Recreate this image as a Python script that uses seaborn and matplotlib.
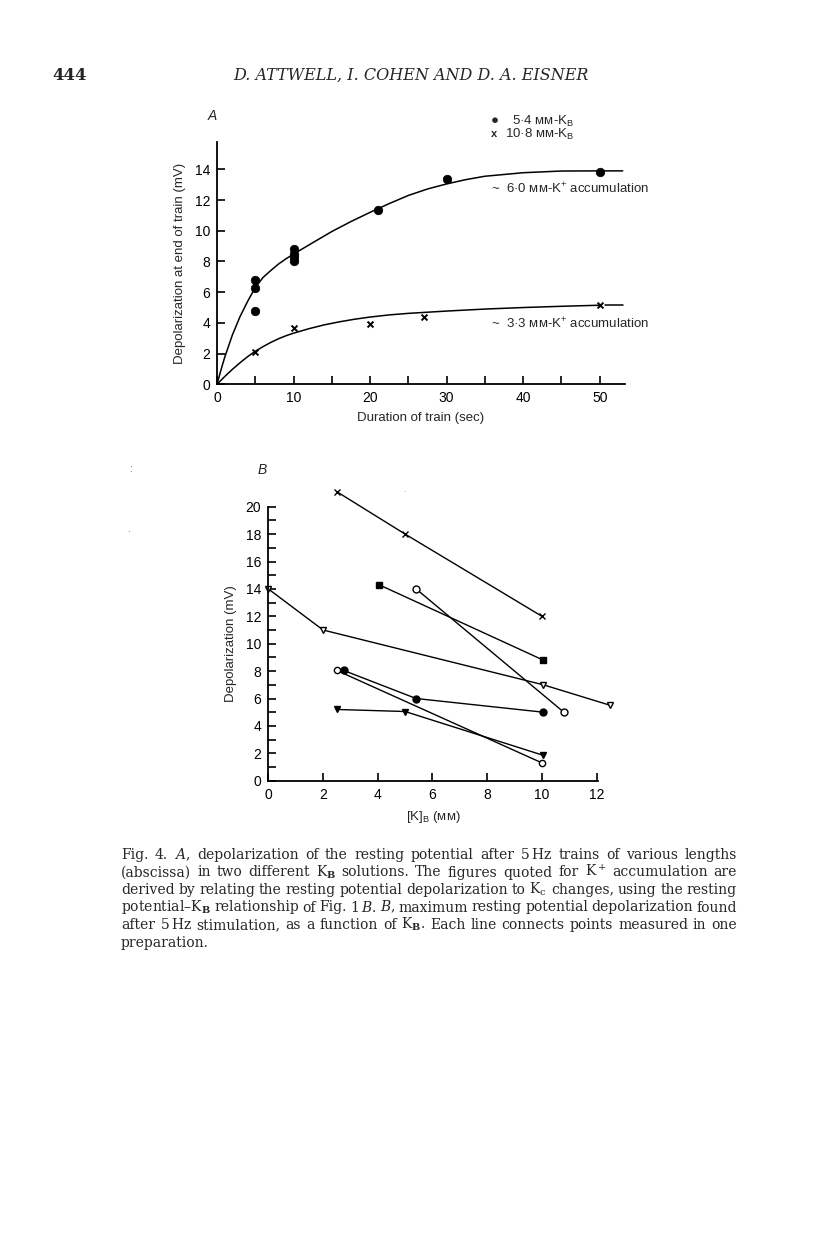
import numpy as np
import pandas as pd
import seaborn as sns
import matplotlib
matplotlib.use('Agg')
import matplotlib.pyplot as plt
from matplotlib.ticker import MultipleLocator

# ---- panel A : depolarization vs duration of train
dur_54 = [5, 5, 5, 10, 10, 10, 10, 21, 30, 50]
dep_54 = [6.8, 6.3, 4.8, 8.8, 8.5, 8.3, 8.0, 11.35, 13.4, 13.85]
dur_108 = [5, 10, 20, 27, 50]
dep_108 = [2.1, 3.65, 3.95, 4.4, 5.15]

# hand drawn curves
fit_54_x = [0, 0.5, 1, 2, 3, 4, 5, 6, 7, 8, 9, 10, 12.5, 15, 17.5, 20, 22.5, 25, 27.5, 30,
            32.5, 35, 40, 45, 50, 53]
fit_54_y = [0, 0.9, 1.75, 3.2, 4.4, 5.4, 6.3, 6.95, 7.4, 7.82, 8.17, 8.48, 9.22, 9.95, 10.6,
            11.2, 11.77, 12.3, 12.72, 13.05, 13.33, 13.55, 13.78, 13.89, 13.9, 13.9]
fit_108_x = [0, 1, 2, 3, 4, 5, 6, 7, 8, 9, 10, 12, 14, 16, 18, 20, 22.5, 25, 30, 35, 40, 45, 50]
fit_108_y = [0, 0.5, 0.97, 1.4, 1.8, 2.15, 2.45, 2.72, 2.96, 3.16, 3.33, 3.62, 3.87, 4.07,
             4.24, 4.38, 4.52, 4.62, 4.77, 4.9, 5.0, 5.08, 5.15]
tail_108_x = [50.7, 53]
tail_108_y = [5.15, 5.15]

# ---- panel B : depolarization vs [K]B, one line per preparation
prep_x = [2.5, 5, 10]
prep_x_y = [21.1, 18.0, 12.0]
prep_sq_x = [4.05, 10.05]
prep_sq_y = [14.3, 8.8]
prep_oc_x = [5.4, 10.8]
prep_oc_y = [14.0, 5.0]
prep_ot_x = [0, 2.0, 10.05, 12.5]
prep_ot_y = [14.0, 11.0, 7.0, 5.5]
prep_fc_x = [2.75, 5.4, 10.05]
prep_fc_y = [8.05, 6.0, 5.0]
prep_os_x = [2.5, 10.0]
prep_os_y = [8.05, 1.3]
prep_ft_x = [2.5, 5.0, 10.05]
prep_ft_y = [5.2, 5.05, 1.85]

caption = [
    r"Fig. 4. $\mathit{A}$, depolarization of the resting potential after 5$\,$Hz trains of various lengths",
    r"(abscissa) in two different K$_{\mathbf{B}}$ solutions. The figures quoted for K$^+$ accumulation are",
    r"derived by relating the resting potential depolarization to K$_{\mathrm{c}}$ changes, using the resting",
    r"potential–K$_{\mathbf{B}}$ relationship of Fig. 1$\,\mathit{B}$. $\mathit{B}$, maximum resting potential depolarization found",
    r"after 5$\,$Hz stimulation, as a function of K$_{\mathbf{B}}$. Each line connects points measured in one",
    r"preparation.",
]

sns.set_style('ticks')
plt.rcParams['font.family'] = ['Liberation Sans', 'DejaVu Sans']
plt.rcParams['mathtext.fontset'] = 'dejavuserif'

W, H = 816, 1243
def fx(x): return x / W
def fy(y): return 1 - y / H

fig = plt.figure(figsize=(W / 100, H / 100), dpi=100)
fig.patch.set_facecolor('white')

def style_axes(ax):
    for s in ['top', 'right']:
        ax.spines[s].set_visible(False)
    for s in ['left', 'bottom']:
        ax.spines[s].set_linewidth(1.3)
        ax.spines[s].set_color('black')
    ax.tick_params(which='both', direction='in', length=6, width=1.2, colors='black',
                   labelsize=10, pad=5)
    ax.set_facecolor('white')

# ---------------- panel A
axA = fig.add_axes([fx(217), fy(384.3), (625 - 217) / W, (384.3 - 141.7) / H])
sns.lineplot(x=fit_54_x, y=fit_54_y, ax=axA, color='k', lw=1.1, sort=False, estimator=None)
sns.lineplot(x=fit_108_x, y=fit_108_y, ax=axA, color='k', lw=1.1, sort=False, estimator=None)
sns.lineplot(x=tail_108_x, y=tail_108_y, ax=axA, color='k', lw=1.1, sort=False, estimator=None)
sns.scatterplot(x=dur_54, y=dep_54, ax=axA, color='k', marker='o', s=38, edgecolor='k', zorder=3)
sns.scatterplot(x=dur_108, y=dep_108, ax=axA, color='k', marker='x', s=18, linewidth=1.4, zorder=3)
axA.set_xlim(0, 53.3)
axA.set_ylim(0, 15.8)
axA.xaxis.set_major_locator(MultipleLocator(10))
axA.xaxis.set_minor_locator(MultipleLocator(5))
axA.set_yticks(np.arange(0, 15, 2))
style_axes(axA)
axA.set_xlabel('Duration of train (sec)', fontsize=9.5, labelpad=5)
axA.set_ylabel('Depolarization at end of train (mV)', fontsize=9.5, labelpad=6)
axA.text(35.8, 12.75, r'~  6·0 ᴍᴍ-K$^{\mathregular{+}}$ accumulation', fontsize=9.5, va='center')
axA.text(35.8, 3.95, r'~  3·3 ᴍᴍ-K$^{\mathregular{+}}$ accumulation', fontsize=9.5, va='center')

# legend drawn as text, like the original
fig.text(fx(495), fy(121), '●', fontsize=9.5, ha='center', va='center')
fig.text(fx(512), fy(121), r'5·4 ᴍᴍ-K$_{\mathregular{B}}$', fontsize=9.5, va='center')
fig.text(fx(494), fy(134), 'x', fontsize=8, ha='center', va='center', weight='bold')
fig.text(fx(505), fy(134), r'10·8 ᴍᴍ-K$_{\mathregular{B}}$', fontsize=9.5, va='center')
fig.text(fx(212), fy(116), 'A', fontsize=10, style='italic', ha='center', va='center')

# ---------------- panel B
axB = fig.add_axes([fx(268.3), fy(780.7), (597.5 - 268.3) / W, 274 / H])
kw = dict(ax=axB, color='k', lw=1.0, sort=False, estimator=None, clip_on=False,
          markeredgecolor='k', markeredgewidth=1.0)
sns.lineplot(x=prep_x, y=prep_x_y, marker='x', markersize=4, **kw)
sns.lineplot(x=prep_sq_x, y=prep_sq_y, marker='s', markersize=4, markerfacecolor='k', **kw)
sns.lineplot(x=prep_oc_x, y=prep_oc_y, marker='o', markersize=5, markerfacecolor='white', **kw)
sns.lineplot(x=prep_ot_x, y=prep_ot_y, marker='v', markersize=5, markerfacecolor='white', **kw)
sns.lineplot(x=prep_fc_x, y=prep_fc_y, marker='o', markersize=5, markerfacecolor='k', **kw)
sns.lineplot(x=prep_os_x, y=prep_os_y, marker='o', markersize=4.5, markerfacecolor='white', **kw)
sns.lineplot(x=prep_ft_x, y=prep_ft_y, marker='v', markersize=5, markerfacecolor='k', **kw)
axB.set_xlim(0, 12.03)
axB.set_ylim(0, 20)
axB.xaxis.set_major_locator(MultipleLocator(2))
axB.yaxis.set_major_locator(MultipleLocator(2))
axB.yaxis.set_minor_locator(MultipleLocator(1))
style_axes(axB)
axB.set_xlabel(r'[K]$_{\mathregular{B}}$ (ᴍᴍ)', fontsize=9.5, labelpad=5)
axB.set_ylabel('Depolarization (mV)', fontsize=9.5, labelpad=6)
fig.text(fx(262), fy(470), 'B', fontsize=10, style='italic', ha='center', va='center')

# stray specks of the scan
fig.text(fx(130), fy(469), ':', fontsize=7, color='0.35', ha='center', va='center')
fig.text(fx(128), fy(529), '.', fontsize=7, color='0.35', ha='center', va='center')
fig.text(fx(404), fy(491), '.', fontsize=6, color='0.45', ha='center', va='center')

# ---------------- page header
fig.text(fx(52), fy(80), '444', fontsize=12, family='DejaVu Serif', va='baseline', weight='bold')
fig.text(fx(411), fy(80), 'D. ATTWELL, I. COHEN AND D. A. EISNER', fontsize=11.5,
         family='DejaVu Serif', style='italic', ha='center', va='baseline')

# ---------------- caption, justified between two margins
def justify(lines, x0, x1, y0, dy, size):
    r = fig.canvas.get_renderer()
    t1 = fig.text(0, 0, 'a a', fontsize=size, family='DejaVu Serif')
    t2 = fig.text(0, 0, 'aa', fontsize=size, family='DejaVu Serif')
    sp = t1.get_window_extent(r).width - t2.get_window_extent(r).width
    t1.remove()
    t2.remove()
    for i, line in enumerate(lines):
        words = line.split(' ')
        ts = [fig.text(0, 0, w, fontsize=size, family='DejaVu Serif', va='baseline') for w in words]
        ws = [t.get_window_extent(r).width for t in ts]
        if i == len(lines) - 1 or len(words) == 1:
            gap = sp
        else:
            gap = (x1 - x0 - sum(ws)) / (len(words) - 1)
        x = x0
        y = y0 + i * dy
        for t, w in zip(ts, ws):
            t.set_position((fx(x), fy(y)))
            x += w + gap

justify(caption, 121, 737, 859, 17.5, 10)

fig.savefig('out.png', dpi=100, facecolor='white')
